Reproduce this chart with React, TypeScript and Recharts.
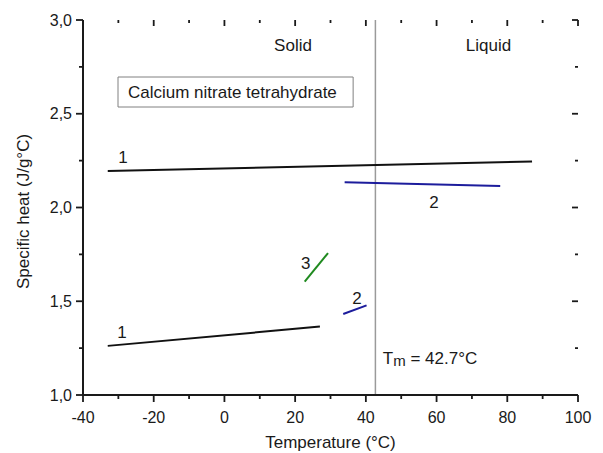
import { LineChart, Line, XAxis, YAxis, ReferenceLine, ReferenceDot, ReferenceArea } from 'recharts'

const FONT = '"Liberation Sans", Arial, sans-serif'
const INK = '#1a1a1a'

// temperature axis (°C)
const tempTicks = [-40, -20, 0, 20, 40, 60, 80, 100]
const tempMinorTicks = [-40, -30, -20, -10, 0, 10, 20, 30, 40, 50, 60, 70, 80, 90, 100]
// specific heat axis (J/g°C)
const heatTicks = [1, 1.5, 2, 2.5, 3]
const heatMinorTicks = [1, 1.25, 1.5, 1.75, 2, 2.25, 2.5, 2.75, 3]

const meltingPoint = 42.7

// fitted segments
const curve1Solid = [{ t: -33, cp: 1.262 }, { t: 27, cp: 1.365 }]
const curve1Liquid = [{ t: -33, cp: 2.195 }, { t: 87, cp: 2.245 }]
const curve2Solid = [{ t: 33.6, cp: 1.432 }, { t: 40.2, cp: 1.478 }]
const curve2Liquid = [{ t: 34, cp: 2.135 }, { t: 78, cp: 2.115 }]
const curve3Solid = [{ t: 22.7, cp: 1.605 }, { t: 29.3, cp: 1.757 }]

const COLORS = {
  c1: '#111111',
  c2: '#1c1c9c',
  c3: '#1f8a1f',
  melt: '#9a9a9a',
}

const X_MIN = -40
const X_MAX = 100
const Y_MIN = 1
const Y_MAX = 3
// data units per pixel of the plot box (495 x 375 px), used for tick mark lengths only
const X_PER_PX = (X_MAX - X_MIN) / 495
const Y_PER_PX = (Y_MAX - Y_MIN) / 375

function fmtTemp(v: number) {
  return tempTicks.includes(v) ? String(v) : ''
}

function fmtHeat(v: number) {
  return heatTicks.includes(v) ? v.toFixed(1).replace('.', ',') : ''
}

function XTitle({ viewBox }: any) {
  return (
    <text x={viewBox.x + viewBox.width / 2} y={448} textAnchor="middle" fontSize={17} fontFamily={FONT} fill={INK}>
      Temperature (°C)
    </text>
  )
}

function YTitle({ viewBox }: any) {
  const cx = 23
  const cy = viewBox.y + viewBox.height / 2 + 4
  return (
    <text x={cx} y={cy} dy="0.355em" textAnchor="middle" fontSize={17} fontFamily={FONT} fill={INK}
      transform={`rotate(-90, ${cx}, ${cy})`}>
      Specific heat (J/g°C)
    </text>
  )
}

const textStyle = { fontSize: 17, fontFamily: FONT, fill: INK }
const tickText = { fontSize: 16, fontFamily: FONT, fill: INK }

function TmLabel({ viewBox }: any) {
  return (
    <text x={viewBox.x} y={viewBox.y} dy="0.355em" fontFamily={FONT} fill={INK} fontSize={17}>
      <tspan>T</tspan>
      <tspan fontSize={15} dy={2}>m</tspan>
      <tspan dy={-2}> = 42.7°C</tspan>
    </text>
  )
}

const axisLineStyle = { stroke: INK, strokeWidth: 2 }

// tick marks drawn as short reference segments on the axes' own scales
function tickMarks() {
  const marks: any[] = []
  tempMinorTicks.forEach((t) => {
    const major = tempTicks.includes(t)
    const out = (major ? 7 : 4) * Y_PER_PX
    const inn = (major ? 6 : 3) * Y_PER_PX
    marks.push(
      <ReferenceLine key={`b${t}`} segment={[{ x: t, y: Y_MIN }, { x: t, y: Y_MIN - out }]}
        stroke={INK} strokeWidth={1.8} ifOverflow="visible" />,
      <ReferenceLine key={`t${t}`} segment={[{ x: t, y: Y_MAX }, { x: t, y: Y_MAX - inn }]}
        stroke={INK} strokeWidth={1.8} ifOverflow="visible" />
    )
  })
  heatMinorTicks.forEach((h) => {
    const major = heatTicks.includes(h)
    const out = (major ? 7 : 4) * X_PER_PX
    const inn = (major ? 6 : 3) * X_PER_PX
    marks.push(
      <ReferenceLine key={`l${h}`} segment={[{ x: X_MIN, y: h }, { x: X_MIN - out, y: h }]}
        stroke={INK} strokeWidth={1.8} ifOverflow="visible" />,
      <ReferenceLine key={`r${h}`} segment={[{ x: X_MAX, y: h }, { x: X_MAX - inn, y: h }]}
        stroke={INK} strokeWidth={1.8} ifOverflow="visible" />
    )
  })
  return marks
}

export default function App() {
  const segments = [
    { key: 'c1s', data: curve1Solid, color: COLORS.c1, xId: 0 as any, yId: 0 as any },
    { key: 'c1l', data: curve1Liquid, color: COLORS.c1, xId: 0, yId: 0 },
    { key: 'c2s', data: curve2Solid, color: COLORS.c2, xId: 'top', yId: 'right' },
    { key: 'c2l', data: curve2Liquid, color: COLORS.c2, xId: 'top', yId: 'right' },
    { key: 'c3s', data: curve3Solid, color: COLORS.c3, xId: 0, yId: 0 },
  ]

  return (
    <div style={{ position: 'absolute', left: 0, top: 0, width: 603, height: 453, background: '#fff' }}>
      <LineChart width={603} height={453} margin={{ top: 20, right: 25, bottom: 0, left: 0 }}>
        <XAxis xAxisId={0} dataKey="t" type="number" domain={[X_MIN, X_MAX]} ticks={tempMinorTicks} interval={0}
          height={58} tickSize={5} tickMargin={12} tickLine={false} tick={tickText} tickFormatter={fmtTemp}
          axisLine={axisLineStyle} label={XTitle} allowDataOverflow />
        <XAxis xAxisId="top" orientation="top" dataKey="t" type="number" domain={[X_MIN, X_MAX]}
          height={0} tick={false} tickLine={false} axisLine={axisLineStyle} allowDataOverflow />
        <YAxis yAxisId={0} type="number" domain={[Y_MIN, Y_MAX]} ticks={heatMinorTicks} interval={0} width={83}
          tickSize={5} tickMargin={6} tickLine={false} tick={tickText} tickFormatter={fmtHeat}
          axisLine={axisLineStyle} label={YTitle} allowDataOverflow />
        <YAxis yAxisId="right" orientation="right" type="number" domain={[Y_MIN, Y_MAX]}
          width={0} tick={false} tickLine={false} axisLine={axisLineStyle} allowDataOverflow />

        <ReferenceLine x={meltingPoint} stroke={COLORS.melt} strokeWidth={1.5} />

        <ReferenceArea x1={-30.1} x2={36.4} y1={2.536} y2={2.696} fill="#fff" fillOpacity={1} stroke="#808080"
          strokeWidth={1}
          label={{ value: 'Calcium nitrate tetrahydrate', position: 'insideLeft', offset: 10, ...textStyle }} />

        {tickMarks()}

        {segments.map((s) => (
          <Line key={s.key} data={s.data} dataKey="cp" xAxisId={s.xId} yAxisId={s.yId} stroke={s.color}
            strokeWidth={2} dot={false} activeDot={false} isAnimationActive={false} />
        ))}

        <ReferenceDot x={19.4} y={2.867} r={0} stroke="none" label={{ value: 'Solid', position: 'center', ...textStyle }} />
        <ReferenceDot x={74.7} y={2.867} r={0} stroke="none" label={{ value: 'Liquid', position: 'center', ...textStyle }} />
        <ReferenceDot x={-28.7} y={2.269} r={0} stroke="none" label={{ value: '1', position: 'center', ...textStyle }} />
        <ReferenceDot x={-29} y={1.336} r={0} stroke="none" label={{ value: '1', position: 'center', ...textStyle }} />
        <ReferenceDot x={59.3} y={2.029} r={0} stroke="none" label={{ value: '2', position: 'center', ...textStyle }} />
        <ReferenceDot x={37.5} y={1.517} r={0} stroke="none" label={{ value: '2', position: 'center', ...textStyle }} />
        <ReferenceDot x={23} y={1.706} r={0} stroke="none" label={{ value: '3', position: 'center', ...textStyle }} />
        <ReferenceDot x={44.8} y={1.197} r={0} stroke="none" label={TmLabel} />
      </LineChart>
    </div>
  )
}
